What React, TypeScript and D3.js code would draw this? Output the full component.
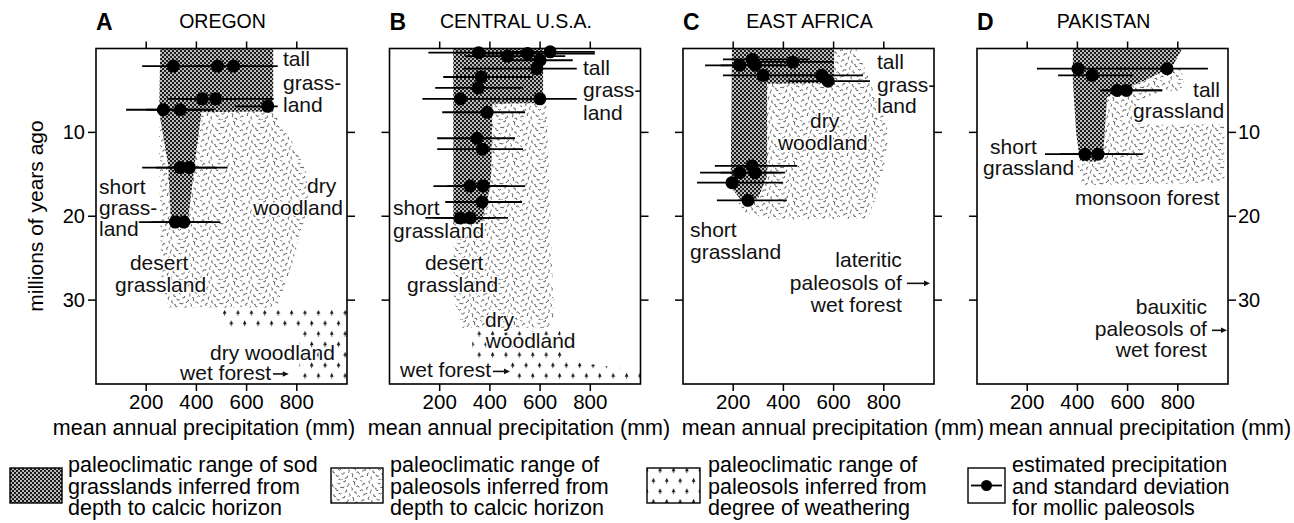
import React from "react";
import * as d3 from "d3";

type Pt = [number, number]; // [mean annual precipitation (mm), age (Ma)]

// ---- axes -------------------------------------------------------------
const precipTicks = [200, 400, 600, 800];
const ageTicks = [10, 20, 30];
const precipDomain: [number, number] = [0, 1000];
const ageDomain: [number, number] = [0, 40];

// ---- A: Oregon --------------------------------------------------------
const oregonSod: Pt[] = [
  [256, 0], [706, 0], [706, 7.5], [420, 7.6], [392, 14], [364, 21.3],
  [300, 21.3], [288, 14], [252, 7.6],
];
const oregonCalcic: Pt[] = [
  [250, 7.5], [706, 7.5], [745, 9.5], [800, 12], [840, 15], [845, 19],
  [815, 22], [770, 27], [730, 30.3], [700, 30.9], [290, 30.9], [262, 28],
  [255, 20], [252, 12],
];
const oregonWeathering: Pt[] = [
  [500, 31.2], [1000, 31.2], [1000, 39.6], [810, 39.6], [810, 33.6], [520, 33.6],
];
const oregonAge = [2.1, 2.1, 2.1, 6.0, 6.0, 6.9, 7.3, 7.3, 14.2, 14.2, 20.7, 20.7];
const oregonPrecip = [308, 484, 548, 424, 476, 684, 268, 336, 335, 372, 316, 350];
const oregonLow = [184, 400, 440, 284, 340, 554, 120, 200, 184, 240, 168, 220];
const oregonHigh = [432, 600, 724, 560, 708, 724, 416, 470, 480, 524, 460, 496];

// ---- B: Central U.S.A. ------------------------------------------------
const centralSod: Pt[] = [
  [254, 0], [612, 0], [612, 6.5], [410, 6.6], [405, 15], [398, 17],
  [365, 20.9], [254, 20.9],
];
const centralCalcic: Pt[] = [
  [410, 6.5], [626, 6.5], [636, 15], [650, 28], [655, 32], [640, 33.3],
  [290, 33.3], [258, 30], [254, 20],
];
const centralWeathering: Pt[] = [
  [330, 33.5], [680, 33.5], [690, 37.2], [1000, 38.4], [1000, 39.8],
  [480, 39.8], [480, 37.2], [330, 37.2],
];
const centralAge = [0.5, 0.9, 0.6, 0.4, 1.4, 2.4, 3.4, 4.7, 6.0, 6.0, 7.6, 10.7, 12.0, 16.4, 16.4, 18.3, 20.2, 20.2];
const centralPrecip = [355, 470, 550, 640, 600, 587, 365, 353, 282, 599, 389, 349, 369, 321, 373, 369, 282, 321];
const centralLow = [155, 300, 380, 470, 470, 294, 214, 182, 131, 450, 210, 190, 190, 175, 230, 222, 143, 180];
const centralHigh = [560, 700, 818, 818, 730, 746, 571, 532, 440, 746, 540, 500, 532, 470, 540, 528, 420, 472];

// ---- C: East Africa ---------------------------------------------------
const africaSod: Pt[] = [
  [195, 0], [602, 0], [602, 4.1], [335, 4.2], [335, 15.2], [300, 17.8],
  [230, 18], [190, 16.5],
];
const africaCalcic: Pt[] = [
  [560, 0], [690, 0], [720, 2], [770, 6], [812, 9], [815, 12], [790, 15.5],
  [760, 18.5], [735, 20.3], [360, 20.4], [250, 19.6], [215, 18.2], [250, 16],
  [335, 12], [335, 4],
];
const africaAge = [1.3, 1.6, 2.0, 2.0, 3.2, 3.2, 3.9, 14.0, 14.8, 14.8, 16.0, 18.1];
const africaPrecip = [275, 437, 227, 287, 319, 554, 578, 275, 227, 287, 195, 259];
const africaLow = [159, 300, 88, 150, 159, 400, 420, 127, 68, 150, 56, 135];
const africaHigh = [500, 600, 400, 437, 560, 717, 745, 454, 380, 406, 398, 414];

// ---- D: Pakistan ------------------------------------------------------
const pakistanSod: Pt[] = [
  [382, 0], [818, 0], [777, 2.2], [677, 3.7], [558, 5.2], [518, 5.8],
  [502, 13], [470, 13.5], [410, 13.4], [395, 10], [382, 4],
];
const pakistanCalcic: Pt[] = [
  [518, 5.8], [560, 5.2], [680, 3.7], [775, 2.3], [815, 2.5], [825, 4.4],
  [800, 5.0], [730, 5.2], [640, 6.2], [620, 8.6], [700, 9.1], [985, 9.0],
  [985, 16.0], [420, 16.3], [400, 14], [502, 13],
];
const pakistanAge = [2.4, 2.4, 3.2, 5.0, 5.0, 12.6, 12.6];
const pakistanPrecip = [402, 757, 458, 558, 595, 430, 482];
const pakistanLow = [239, 560, 323, 490, 500, 271, 330];
const pakistanHigh = [600, 920, 622, 737, 737, 600, 661];

// ---- annotations (anchored in data units) -----------------------------
type Note = { text: string; x: number; y: number; anchor?: "start" | "end" };
type Arrow = { x1: number; x2: number; y: number };

const oregonNotes: Note[] = [
  { text: "tall", x: 745, y: 2.08 },
  { text: "grass-", x: 745, y: 4.94 },
  { text: "land", x: 745, y: 7.56 },
  { text: "short", x: 12, y: 17.4 },
  { text: "grass-", x: 12, y: 19.9 },
  { text: "land", x: 12, y: 22.4 },
  { text: "dry", x: 841, y: 17.2 },
  { text: "woodland", x: 626, y: 19.9 },
  { text: "desert", x: 135, y: 26.4 },
  { text: "grassland", x: 76, y: 29.0 },
  { text: "dry woodland", x: 454, y: 37.1 },
  { text: "wet forest", x: 335, y: 39.5 },
];
const oregonArrows: Arrow[] = [{ x1: 705, x2: 768, y: 38.8 }];

const centralNotes: Note[] = [
  { text: "tall", x: 771, y: 3.15 },
  { text: "grass-", x: 771, y: 5.83 },
  { text: "land", x: 771, y: 8.5 },
  { text: "short", x: 14, y: 19.8 },
  { text: "grassland", x: 14, y: 22.6 },
  { text: "desert", x: 141, y: 26.4 },
  { text: "grassland", x: 70, y: 29.0 },
  { text: "dry", x: 380, y: 33.2 },
  { text: "woodland", x: 383, y: 35.65 },
  { text: "wet forest", x: 42, y: 39.2 },
];
const centralArrows: Arrow[] = [{ x1: 412, x2: 480, y: 38.5 }];

const africaNotes: Note[] = [
  { text: "tall", x: 773, y: 2.44 },
  { text: "grass-", x: 773, y: 5.2 },
  { text: "land", x: 773, y: 7.7 },
  { text: "dry", x: 506, y: 9.46 },
  { text: "woodland", x: 378, y: 12.1 },
  { text: "short", x: 28, y: 22.5 },
  { text: "grassland", x: 28, y: 25.1 },
  { text: "lateritic", x: 872, y: 26.1, anchor: "end" },
  { text: "paleosols of", x: 872, y: 28.75, anchor: "end" },
  { text: "wet forest", x: 872, y: 31.4, anchor: "end" },
];
const africaArrows: Arrow[] = [{ x1: 892, x2: 984, y: 28.0 }];

const pakistanNotes: Note[] = [
  { text: "tall", x: 861, y: 5.77 },
  { text: "grassland", x: 622, y: 8.27 },
  { text: "short", x: 52, y: 12.55 },
  { text: "grassland", x: 24, y: 15.1 },
  { text: "monsoon forest", x: 390, y: 18.6 },
  { text: "bauxitic", x: 916, y: 31.7, anchor: "end" },
  { text: "paleosols of", x: 916, y: 34.3, anchor: "end" },
  { text: "wet forest", x: 916, y: 36.8, anchor: "end" },
];
const pakistanArrows: Arrow[] = [{ x1: 936, x2: 996, y: 33.6 }];

const legendItems = [
  ["paleoclimatic range of sod", "grasslands inferred from", "depth to calcic horizon"],
  ["paleoclimatic range of", "paleosols inferred from", "depth to calcic horizon"],
  ["paleoclimatic range of", "paleosols inferred from", "degree of weathering"],
  ["estimated precipitation", "and standard deviation", "for mollic paleosols"],
];

// ---- layout -------------------------------------------------------------
const FONT = "'Liberation Sans', Arial, Helvetica, sans-serif";
const TOP = 48.5;
const BOTTOM = 384;
const WIDTH = 251;

type Panel = {
  key: string;
  name: string;
  left: number;
  axisTitleX: number;
  sod: Pt[];
  calcic: Pt[];
  weathering: Pt[] | null;
  age: number[];
  precip: number[];
  low: number[];
  high: number[];
  notes: Note[];
  arrows: Arrow[];
  labelSide: "left" | "right" | null;
};

const panels: Panel[] = [
  { key: "A", name: "OREGON", left: 96, axisTitleX: 204, sod: oregonSod, calcic: oregonCalcic, weathering: oregonWeathering, age: oregonAge, precip: oregonPrecip, low: oregonLow, high: oregonHigh, notes: oregonNotes, arrows: oregonArrows, labelSide: "left" },
  { key: "B", name: "CENTRAL U.S.A.", left: 389.5, axisTitleX: 519, sod: centralSod, calcic: centralCalcic, weathering: centralWeathering, age: centralAge, precip: centralPrecip, low: centralLow, high: centralHigh, notes: centralNotes, arrows: centralArrows, labelSide: null },
  { key: "C", name: "EAST AFRICA", left: 683, axisTitleX: 833, sod: africaSod, calcic: africaCalcic, weathering: null, age: africaAge, precip: africaPrecip, low: africaLow, high: africaHigh, notes: africaNotes, arrows: africaArrows, labelSide: null },
  { key: "D", name: "PAKISTAN", left: 977, axisTitleX: 1140, sod: pakistanSod, calcic: pakistanCalcic, weathering: null, age: pakistanAge, precip: pakistanPrecip, low: pakistanLow, high: pakistanHigh, notes: pakistanNotes, arrows: pakistanArrows, labelSide: "right" },
];

// Texture for the calcic-horizon ranges: small curled strokes scattered over
// a 40px tile with low-discrepancy (golden-ratio) offsets so no rows show.
const STIPPLE_TILE = 40;
const STIPPLE_COUNT = 52;
const PHI = 0.6180339887;
const STIPPLE_MARKS = d3.range(STIPPLE_COUNT).map((i) => {
  const u = (i * PHI) % 1;
  const v = (i + 0.5) / STIPPLE_COUNT;
  const rot = (i * 137.5) % 360;
  return [u * STIPPLE_TILE, v * STIPPLE_TILE, rot] as [number, number, number];
});

const halo = {
  paintOrder: "stroke" as const,
  stroke: "#fff",
  strokeWidth: 3,
  strokeLinejoin: "round" as const,
};

function Defs() {
  return (
    <defs>
      <pattern id="sod" width={4} height={4} patternUnits="userSpaceOnUse">
        <rect width={4} height={4} fill="#1c1c1c" />
        <circle cx={1} cy={1} r={0.95} fill="#fff" />
        <circle cx={3} cy={3} r={0.95} fill="#fff" />
      </pattern>
      <pattern id="calcic" width={STIPPLE_TILE} height={STIPPLE_TILE} patternUnits="userSpaceOnUse">
        <rect width={STIPPLE_TILE} height={STIPPLE_TILE} fill="#fff" />
        {STIPPLE_MARKS.map(([x, y, r], i) => (
          <path
            key={i}
            d={i % 3 === 0 ? "M-1.8,0.2 Q-0.6,-1.6 0.6,0 T2,0.2" : "M-1.6,0.5 Q0,-1.8 1.6,0.5"}
            transform={`translate(${x},${y}) rotate(${r})`}
            fill="none"
            stroke="#444"
            strokeWidth={0.8}
          />
        ))}
      </pattern>
      <pattern id="trees" width={13.4} height={21} patternUnits="userSpaceOnUse" x={0} y={3}>
        <rect width={13.4} height={21} fill="#fff" />
        {[[3.5, 5], [10.2, 15.5]].map(([x, y], i) => (
          <g key={i}>
            <path d={`M${x - 1.8},${y + 1.2}L${x},${y - 2.8}L${x + 1.8},${y + 1.2}Z`} fill="#111" />
            <path d={`M${x},${y + 1}V${y + 3.2}`} stroke="#111" strokeWidth={0.8} />
          </g>
        ))}
      </pattern>
    </defs>
  );
}

function PanelView({ p }: { p: Panel }) {
  const x = d3.scaleLinear().domain(precipDomain).range([p.left, p.left + WIDTH]);
  const y = d3.scaleLinear().domain(ageDomain).range([TOP, BOTTOM]);
  const area = d3.line<Pt>().x((d) => x(d[0])).y((d) => y(d[1])).curve(d3.curveLinearClosed);
  const right = p.left + WIDTH;

  return (
    <g>
      {/* panel heading */}
      <text x={p.left} y={30} fontSize={23} fontWeight="bold" fontFamily={FONT}>{p.key}</text>
      <text x={p.left + WIDTH / 2 + 1} y={28} fontSize={19.5} textAnchor="middle" fontFamily={FONT}>{p.name}</text>

      {/* inferred ranges */}
      <path d={area(p.calcic) ?? ""} fill="url(#calcic)" />
      {p.weathering && <path d={area(p.weathering) ?? ""} fill="url(#trees)" />}
      <path d={area(p.sod) ?? ""} fill="url(#sod)" />

      {/* mollic paleosol estimates */}
      {p.age.map((a, i) => (
        <line key={`e${i}`} x1={x(p.low[i])} x2={x(p.high[i])} y1={y(a)} y2={y(a)} stroke="#000" strokeWidth={1.8} />
      ))}
      {p.age.map((a, i) => (
        <circle key={`c${i}`} cx={x(p.precip[i])} cy={y(a)} r={6.5} fill="#000" />
      ))}

      {/* annotations */}
      {p.notes.map((n, i) => (
        <text key={`n${i}`} x={x(n.x)} y={y(n.y)} fontSize={21} fontFamily={FONT} textAnchor={n.anchor ?? "start"} fill="#111" style={halo}>
          {n.text}
        </text>
      ))}
      {p.arrows.map((a, i) => {
        const x1 = x(a.x1), x2 = x(a.x2), yy = y(a.y);
        return (
          <g key={`a${i}`}>
            <line x1={x1} x2={x2 - 5} y1={yy} y2={yy} stroke="#111" strokeWidth={1.6} />
            <path d={`M${x2},${yy}L${x2 - 6},${yy - 2.8}L${x2 - 6},${yy + 2.8}Z`} fill="#111" />
          </g>
        );
      })}

      {/* frame and ticks */}
      <rect x={p.left} y={TOP} width={WIDTH} height={BOTTOM - TOP} fill="none" stroke="#000" strokeWidth={1.6} />
      {precipTicks.map((t) => (
        <g key={`t${t}`}>
          <line x1={x(t)} x2={x(t)} y1={TOP} y2={TOP - 7} stroke="#000" strokeWidth={1.5} />
          <line x1={x(t)} x2={x(t)} y1={BOTTOM} y2={BOTTOM + 7} stroke="#000" strokeWidth={1.5} />
          <text x={x(t)} y={409} fontSize={20.5} textAnchor="middle" fontFamily={FONT}>{t}</text>
        </g>
      ))}
      {ageTicks.map((t) => (
        <g key={`a${t}`}>
          <line x1={p.left - 8} x2={p.left} y1={y(t)} y2={y(t)} stroke="#000" strokeWidth={1.5} />
          <line x1={right} x2={right + 8} y1={y(t)} y2={y(t)} stroke="#000" strokeWidth={1.5} />
          {p.labelSide === "left" && (
            <text x={p.left - 11} y={y(t) + 7} fontSize={20} textAnchor="end" fontFamily={FONT}>{t}</text>
          )}
          {p.labelSide === "right" && (
            <text x={right + 10} y={y(t) + 7} fontSize={20} textAnchor="start" fontFamily={FONT}>{t}</text>
          )}
        </g>
      ))}
      <text x={p.axisTitleX} y={435} fontSize={21.5} textAnchor="middle" fontFamily={FONT}>
        mean annual precipitation (mm)
      </text>
    </g>
  );
}

function Legend() {
  const boxes = [
    { x: 10, w: 52, tx: 68 },
    { x: 331, w: 52, tx: 390 },
    { x: 647, w: 53, tx: 708 },
    { x: 968, w: 37, tx: 1012 },
  ];
  const top = 468;
  const h = 35;
  return (
    <g>
      {boxes.map((b, i) => (
        <g key={i}>
          <rect
            x={b.x}
            y={top}
            width={b.w}
            height={h}
            fill={i === 0 ? "url(#sod)" : i === 1 ? "url(#calcic)" : i === 2 ? "url(#trees)" : "#fff"}
            stroke="#000"
            strokeWidth={1.4}
          />
          {i === 3 && (
            <g>
              <line x1={b.x + 3} x2={b.x + b.w - 3} y1={top + h / 2} y2={top + h / 2} stroke="#000" strokeWidth={1.8} />
              <circle cx={b.x + b.w / 2} cy={top + h / 2} r={5.5} fill="#000" />
            </g>
          )}
          {legendItems[i].map((line, j) => (
            <text key={j} x={b.tx} y={472 + j * 21.6} fontSize={21.5} fontFamily={FONT}>{line}</text>
          ))}
        </g>
      ))}
    </g>
  );
}

export default function App() {
  return (
    <svg width={1294} height={523} viewBox="0 0 1294 523" style={{ display: "block", position: "absolute", left: 0, top: 0, background: "#fff" }}>
      <Defs />
      <rect width={1294} height={523} fill="#fff" />
      <text transform="translate(43,216) rotate(-90)" fontSize={21} textAnchor="middle" fontFamily={FONT}>
        millions of years ago
      </text>
      {panels.map((p) => (
        <PanelView key={p.key} p={p} />
      ))}
      <Legend />
    </svg>
  );
}
